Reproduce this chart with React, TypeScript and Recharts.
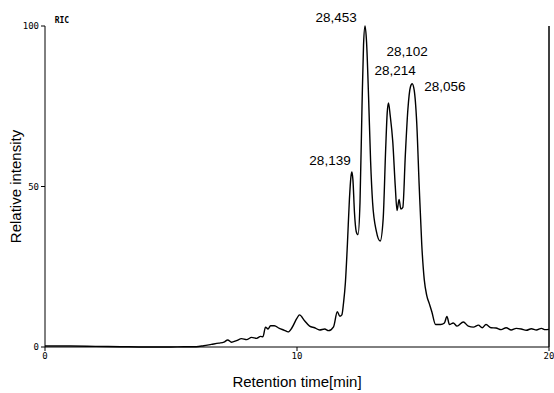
import { LineChart, Line, XAxis, YAxis, ReferenceLine, ReferenceDot } from 'recharts';

// retention time [min] and relative intensity
const times = [
  0, 1, 2, 3, 4, 5, 5.5, 6, 6.3, 6.6, 6.9, 7.1, 7.25, 7.4, 7.6, 7.8, 8.0, 8.2, 8.4, 8.55,
  8.65, 8.75, 8.85, 8.95, 9.1, 9.3, 9.5, 9.65, 9.8, 10.0, 10.1, 10.3, 10.5, 10.7, 10.9, 11.1,
  11.25, 11.45, 11.6, 11.7, 11.78, 11.85, 11.92, 12.0, 12.08, 12.14, 12.18, 12.22, 12.28, 12.35,
  12.42, 12.5, 12.58, 12.64, 12.7, 12.76, 12.84, 12.92, 13.0, 13.15, 13.3, 13.42, 13.52, 13.58,
  13.63, 13.7, 13.8, 13.9, 13.97, 14.05, 14.12, 14.2, 14.3, 14.4, 14.5, 14.57, 14.65, 14.75,
  14.85, 14.95, 15.05, 15.15, 15.25, 15.35, 15.5, 15.7, 15.85, 15.95, 16.05, 16.2, 16.35, 16.6,
  16.8, 17.0, 17.2, 17.35, 17.5, 17.7, 17.9, 18.1, 18.3, 18.5, 18.7, 18.9, 19.1, 19.3, 19.5,
  19.7, 19.85, 20.0,
];
const intensity = [
  0.3, 0.3, 0.2, 0.1, 0, 0, 0.1, 0.1, 0.4, 0.8, 1.2, 1.5, 2.2, 1.5, 2.0, 2.6, 2.3, 3.0, 2.7, 3.3,
  3.2, 6.2, 5.6, 6.6, 6.6, 5.8, 5.2, 4.7, 6, 9, 10, 8.2, 6.5, 6.0, 5.3, 5.6,
  5.1, 6.3, 11, 9.6, 10, 14, 20, 32, 46, 53, 54.5, 52, 42, 36,
  35, 45, 75, 94, 100, 95, 78, 58, 45, 36, 33, 40, 62, 73,
  76, 72, 64, 50, 42.5, 46, 43, 43.5, 60, 74, 81, 82, 80, 70,
  50, 32, 21, 16, 13.5, 11, 7, 7, 7.5, 9.5, 7, 7.5, 6.5, 7.8,
  6.5, 6.2, 6.8, 6.0, 7.0, 6.0, 5.9, 5.4, 6.0, 5.3, 5.8, 5.6, 5.2, 5.7, 5.3,
  5.8, 5.4, 5.5,
];

const xTicks = [0, 10, 20];
const yTicks = [0, 50, 100];

// peak annotations (mass labels), anchored in data units
const peakNames = ['28,453', '28,102', '28,214', '28,056', '28,139'];
const peakTimes = [11.55, 14.37, 13.89, 15.87, 11.31];
const peakLevels = [102.8, 92.2, 86.3, 81.3, 58.3];

const data = times.map((t, i) => ({ t, v: intensity[i] }));

const tickFont = { fontFamily: 'DejaVu Sans Mono', fontSize: 9, fill: '#000' };
const labelFont = { fontFamily: 'Liberation Sans', fontSize: 15, fill: '#000' };

export default function App() {
  return (
    <div style={{ position: 'absolute', left: 0, top: 0, background: '#fff' }}>
      <LineChart width={554} height={393} data={data} margin={{ top: 26, right: 5, left: 0, bottom: 0 }}>
        <XAxis
          dataKey="t"
          type="number"
          domain={[0, 20]}
          ticks={xTicks}
          height={46}
          stroke="#000"
          tickSize={4}
          tick={tickFont}
          label={{ value: 'Retention time[min]', position: 'insideBottom', offset: 6, style: labelFont }}
        />
        <YAxis
          type="number"
          domain={[0, 100]}
          ticks={yTicks}
          width={45}
          stroke="#000"
          tickSize={4}
          tick={tickFont}
          label={{
            value: 'Relative intensity',
            angle: -90,
            position: 'insideLeft',
            offset: 16,
            style: { ...labelFont, textAnchor: 'middle' },
          }}
        />
        <ReferenceLine x={20} stroke="#000" strokeWidth={1.5} />
        <ReferenceDot
          x={0.67}
          y={101.9}
          r={0}
          ifOverflow="visible"
          label={{ value: 'RIC', position: 'center', style: { ...tickFont, fontSize: 8, fontWeight: 'bold' } }}
        />
        {peakNames.map((name, i) => (
          <ReferenceDot
            key={name}
            x={peakTimes[i]}
            y={peakLevels[i]}
            r={0}
            ifOverflow="visible"
            label={{ value: name, position: 'center', style: { fontFamily: 'Liberation Sans', fontSize: 13.5, fill: '#000' } }}
          />
        ))}
        <Line
          type="monotone"
          dataKey="v"
          stroke="#000"
          strokeWidth={1.4}
          dot={false}
          isAnimationActive={false}
        />
      </LineChart>
    </div>
  );
}
